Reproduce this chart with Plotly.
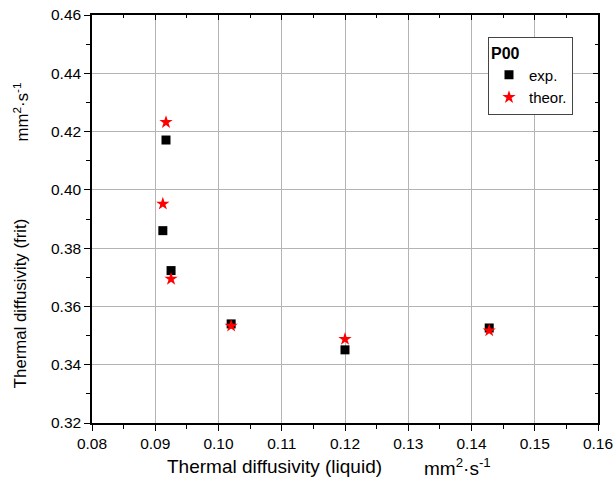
import plotly.graph_objects as go

# Thermal diffusivity of the frit versus that of the liquid (mm^2/s)
liquid_exp = [0.0917, 0.0912, 0.0925, 0.1020, 0.1200, 0.1428]
frit_exp = [0.4171, 0.3860, 0.3723, 0.3540, 0.3451, 0.3526]
liquid_theor = [0.0917, 0.0912, 0.0925, 0.1020, 0.1200, 0.1428]
frit_theor = [0.4232, 0.3952, 0.3694, 0.3533, 0.3488, 0.3517]

x_range = [0.08, 0.16]
y_range = [0.32, 0.46]
x_ticks = [0.08, 0.09, 0.10, 0.11, 0.12, 0.13, 0.14, 0.15, 0.16]
y_ticks = [0.32, 0.34, 0.36, 0.38, 0.40, 0.42, 0.44, 0.46]

FONT = "Liberation Sans, Arial, sans-serif"
GRID = "#b4b4b4"

fig = go.Figure()
fig.add_trace(go.Scatter(
    x=liquid_exp, y=frit_exp, mode="markers", name="exp.",
    marker=dict(symbol="square", size=9, color="black",
                line=dict(width=0)),
))
fig.add_trace(go.Scatter(
    x=liquid_theor, y=frit_theor, mode="markers", name="theor.",
    marker=dict(symbol="star", size=10, color="red",
                line=dict(width=0)),
))
# invisible trace so the mirrored top/right axes are drawn
fig.add_trace(go.Scatter(
    x=x_range, y=y_range, xaxis="x2", yaxis="y2", mode="markers",
    marker=dict(opacity=0), showlegend=False, hoverinfo="skip",
))

common = dict(showline=True, linecolor="black", linewidth=1.5,
              zeroline=False, tickcolor="black", tickwidth=1.2,
              automargin=False)

fig.update_layout(
    width=614, height=493,
    margin=dict(l=92, r=16, t=15, b=70, autoexpand=False),
    paper_bgcolor="white", plot_bgcolor="white",
    font=dict(family=FONT, color="black"),
    showlegend=True,
    xaxis=dict(
        range=x_range, tickvals=x_ticks,
        ticktext=[f"{v:.2f}" for v in x_ticks],
        ticks="outside", ticklen=6,
        minor=dict(ticks="outside", ticklen=4, dtick=0.005,
                   tickcolor="black", showgrid=False),
        showgrid=True, gridcolor=GRID, gridwidth=1,
        tickfont=dict(size=15.5), **common,
    ),
    yaxis=dict(
        range=y_range, tickvals=y_ticks,
        ticktext=[f"{v:.2f}" for v in y_ticks],
        ticks="outside", ticklen=6,
        minor=dict(ticks="outside", ticklen=4, dtick=0.01,
                   tickcolor="black", showgrid=False),
        showgrid=True, gridcolor=GRID, gridwidth=1,
        tickfont=dict(size=15.5), **common,
    ),
    xaxis2=dict(
        range=x_range, overlaying="x", side="top", anchor="y",
        tickvals=x_ticks, showticklabels=False, ticks="inside", ticklen=5,
        minor=dict(ticks="inside", ticklen=3, dtick=0.005, tickcolor="black"),
        showgrid=False, **common,
    ),
    yaxis2=dict(
        range=y_range, overlaying="y", side="right", anchor="x",
        tickvals=y_ticks, showticklabels=False, ticks="inside", ticklen=5,
        minor=dict(ticks="inside", ticklen=3, dtick=0.01, tickcolor="black"),
        showgrid=False, **common,
    ),
    legend=dict(
        title=dict(text="<b>P00</b>", font=dict(size=16)),
        x=0.7826, y=0.9468, xanchor="left", yanchor="top",
        bgcolor="white", bordercolor="#444444", borderwidth=1,
        font=dict(size=15), itemsizing="trace",
        tracegroupgap=0,
    ),
)

unit = "mm<sup>2</sup>·s<sup>-1</sup>"
ann = dict(xref="paper", yref="paper", showarrow=False)
xfont = dict(size=19, family=FONT, color="black")
yfont = dict(size=16.8, family=FONT, color="black")
fig.add_annotation(text="Thermal diffusivity (liquid)", x=0.3613, y=-0.107,
                   xanchor="center", yanchor="middle", font=xfont, **ann)
fig.add_annotation(text=unit, x=0.722, y=-0.107,
                   xanchor="center", yanchor="middle", font=xfont, **ann)
fig.add_annotation(text="Thermal diffusivity (frit)", x=-0.1397, y=0.292,
                   xanchor="center", yanchor="middle", textangle=-90,
                   font=yfont, **ann)
fig.add_annotation(text=unit, x=-0.1397, y=0.762,
                   xanchor="center", yanchor="middle", textangle=-90,
                   font=yfont, **ann)

fig.write_html("out.html")
